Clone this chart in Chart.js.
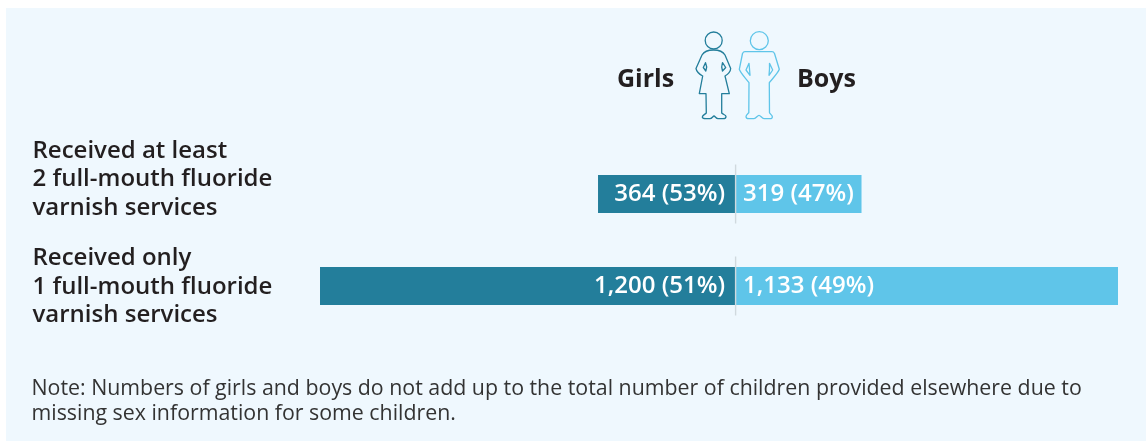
<!DOCTYPE html>
<html><head><meta charset="utf-8">
<script src="https://cdn.jsdelivr.net/npm/chart.js@4"></script>
<style>
html,body{margin:0;padding:0;background:#fff}
#panel{position:absolute;left:6px;top:8px;width:1140px;height:433px;background:#eff8fe}
#wrap{position:absolute;left:0;top:0;width:1146px;height:441px}
.head{position:absolute;font:700 25px "Open Sans",sans-serif;color:#231f20;line-height:32px;top:61px}
#note{position:absolute;left:31.500px;top:373.500px;font:400 21.350px/25px "Open Sans",sans-serif;color:#333;white-space:pre}
svg{position:absolute;left:690px;top:26px}
</style></head><body>
<div id="panel"></div>
<div id="wrap"><canvas id="c" width="1146" height="441"></canvas></div>
<div class="head" style="left:617px">Girls</div>
<div class="head" style="left:797px">Boys</div>
<svg width="100" height="98" viewBox="0 0 100 98" fill="none" stroke-width="1.3" stroke-linejoin="round">
<g stroke="#237e9b">
<circle cx="23.700" cy="14.500" r="8.500"/>
<path d="M23.500 24C18 24 14 25.500 12 29L6 42.500C6.500 45 9 48 12.700 50L9.300 67.700H16L16.300 87C15 88.500 12.500 89 12.300 91C12.300 92.500 14 92.700 16 92.700H20C22 92.700 23 90 24 90C25 90 26 92.700 28 92.700H33C35 92.700 36 92 36 90.500C36 89 33 88.500 31.700 87L31.700 67.700H39.300L35 50C38.500 48 40.500 45 40.700 42.500L35 29C33 25.500 29 24 23.500 24Z"/>
<path d="M15.500 36.700L13.300 41.500L15.800 45L16.700 41Z"/><path d="M32.500 36.700L35.700 41.500L32.500 45L31.700 41Z"/>
</g>
<g stroke="#5fc5e9">
<circle cx="69.300" cy="14.700" r="9"/>
<path d="M55 25.700C53.500 25.700 53 26.500 52.500 27.500L49.300 43.300C50.500 47 55 51.500 59 56.700L58.800 86.700C57.500 88 56 89 56 90.500C56 92 57.500 92.700 59 92.700H64C66 92.700 67.500 89.300 69 89.300C70.500 89.300 72 92.700 74 92.700H80C81.500 92.700 82.500 92 82.300 90.500C82 89 80 88 79.500 86.700L79.300 56.700C83.500 51.500 88 47 89.300 43.300L84.500 27.500C84 26.500 83.500 25.700 82 25.700Z"/>
<path d="M59 37.300L56 44L60 49.300L59.500 43Z"/><path d="M79.500 37.300L82.700 44L79 49.300L79.500 43Z"/>
</g>
</svg>
<div id="note"></div>
<script>
const categories = [
  ["Received at least", "2 full-mouth fluoride", "varnish services"],
  ["Received only", "1 full-mouth fluoride", "varnish services"]
];
const girls = [364, 1200];
const boys = [319, 1133];
const girlsPct = [53, 51];
const boysPct = [47, 49];
const noteText = "Note: Numbers of girls and boys do not add up to the total number of children provided elsewhere due to\nmissing sex information for some children.";

document.getElementById('note').textContent = noteText;

// The reference's bars are not strictly proportional to their labels, so the axis is
// piecewise linear: these anchors pair a signed count with its fraction of the plot width.
const anchorValues = [-1200, -364, 0, 319, 1133];
const anchorFractions = [0, 0.3484, 0.5208, 0.6786, 1];

class AnchoredScale extends Chart.LinearScale {
  getPixelForValue(v) {
    const a = anchorValues, f = anchorFractions;
    let i = 0;
    while (i < a.length - 2 && v > a[i + 1]) i++;
    const t = (v - a[i]) / (a[i + 1] - a[i]);
    return this.left + this.width * (f[i] + t * (f[i + 1] - f[i]));
  }
  getValueForPixel(p) {
    const a = anchorValues, f = anchorFractions, u = (p - this.left) / this.width;
    let i = 0;
    while (i < f.length - 2 && u > f[i + 1]) i++;
    return a[i] + (u - f[i]) / (f[i + 1] - f[i]) * (a[i + 1] - a[i]);
  }
}
AnchoredScale.id = 'anchored';
AnchoredScale.defaults = Chart.LinearScale.defaults;
Chart.register(AnchoredScale);

const labelFont = '600 24px "Open Sans", sans-serif';
const categoryFont = '600 24px "Open Sans", sans-serif';
const categoryShift = [-14.5, 1];

const overlay = {
  id: 'overlay',
  afterDatasetsDraw(chart) {
    const { ctx, scales: { x, y } } = chart;
    const zero = x.getPixelForValue(0);
    ctx.save();
    categories.forEach((lines, i) => {
      const cy = y.getPixelForValue(i);
      // centre rule
      ctx.strokeStyle = '#d0d9de';
      ctx.lineWidth = 1.4;
      ctx.beginPath();
      ctx.moveTo(zero, cy - 29.5);
      ctx.lineTo(zero, cy + 29.5);
      ctx.stroke();
      // value labels
      ctx.fillStyle = '#ffffff';
      ctx.font = labelFont;
      ctx.textBaseline = 'middle';
      ctx.textAlign = 'right';
      ctx.fillText(`${girls[i].toLocaleString('en-US')} (${girlsPct[i]}%)`, zero - 10.5, cy + 0.5);
      ctx.textAlign = 'left';
      ctx.fillText(`${boys[i].toLocaleString('en-US')} (${boysPct[i]}%)`, zero + 7.5, cy + 0.5);
      // category labels
      ctx.fillStyle = '#231f20';
      ctx.font = categoryFont;
      lines.forEach((line, k) => {
        ctx.fillText(line, 32.5, cy + categoryShift[i] + (k - 1) * 28.5);
      });
    });
    ctx.restore();
  }
};

new Chart(document.getElementById('c'), {
  type: 'bar',
  data: {
    labels: categories.map(l => l.join(' ')),
    datasets: [
      { label: 'Girls', data: girls.map(v => -v), backgroundColor: '#237e9b' },
      { label: 'Boys', data: boys, backgroundColor: '#5fc5e9' }
    ]
  },
  options: {
    indexAxis: 'y',
    responsive: false,
    animation: false,
    maintainAspectRatio: false,
    layout: { padding: { left: 320, right: 28, top: 148, bottom: 109 } },
    datasets: { bar: { categoryPercentage: 1, barPercentage: 38 / 92, borderWidth: 0 } },
    plugins: { legend: { display: false }, tooltip: { enabled: false } },
    scales: {
      x: { type: 'anchored', min: -1200, max: 1133, stacked: true, display: false, grid: { display: false } },
      y: { type: 'category', stacked: true, display: false, grid: { display: false } }
    }
  },
  plugins: [overlay]
});
</script>
</body></html>
